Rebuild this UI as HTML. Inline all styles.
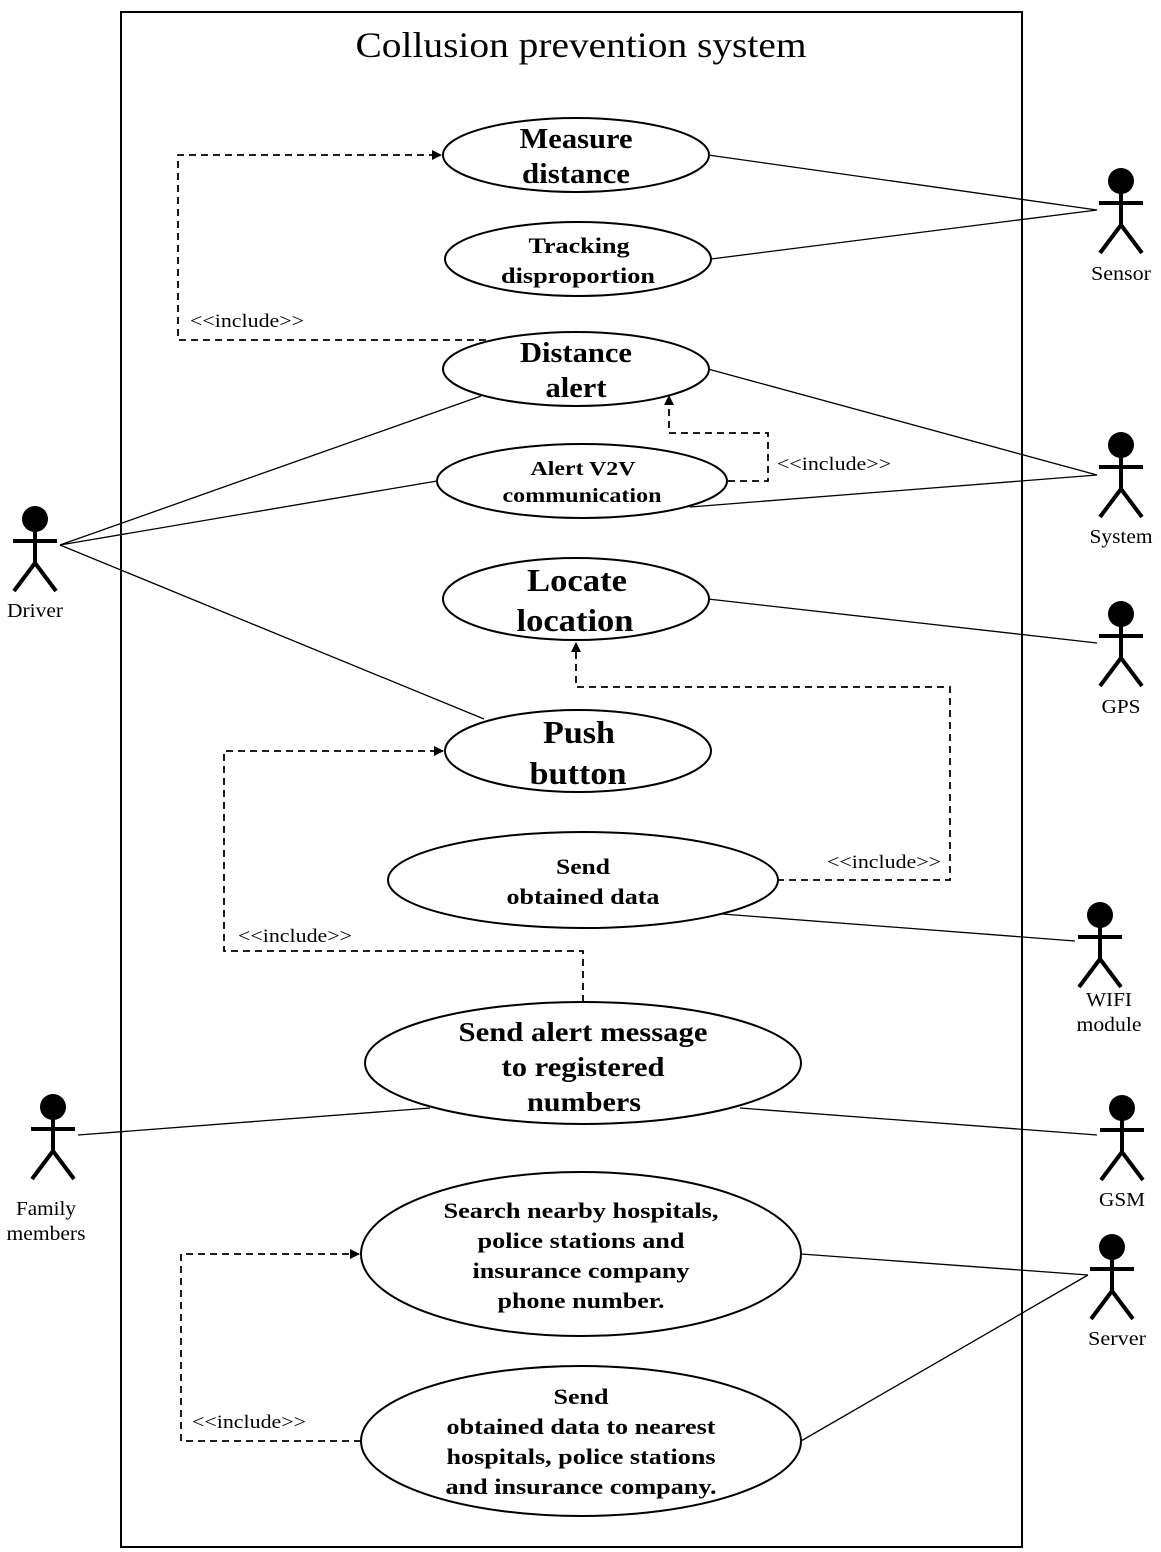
<!DOCTYPE html>
<html><head><meta charset="utf-8"><style>
html,body{margin:0;padding:0;background:#fff;}
svg{display:block;}
text{font-family:"Liberation Serif",serif;fill:#000;}
.b{font-weight:bold;}
</style></head><body>
<svg width="1161" height="1552" viewBox="0 0 1161 1552" xmlns="http://www.w3.org/2000/svg">
<defs><marker id="a" markerWidth="10" markerHeight="10" refX="9" refY="5" orient="auto" markerUnits="userSpaceOnUse"><path d="M0,0 L10,5 L0,10 z" fill="#000"/></marker></defs>
<rect x="121" y="12" width="901" height="1535" fill="none" stroke="#000" stroke-width="2"/>
<text x="581" y="57" font-size="36" text-anchor="middle" textLength="451" lengthAdjust="spacingAndGlyphs">Collusion prevention system</text>

<g stroke="#000" stroke-width="1.3" fill="none">
<line x1="60" y1="545" x2="481" y2="396"/>
<line x1="60" y1="545" x2="437" y2="481"/>
<line x1="60" y1="545" x2="484" y2="719"/>
<line x1="1097" y1="210" x2="708" y2="155"/>
<line x1="1097" y1="210" x2="711" y2="259"/>
<line x1="1097" y1="475" x2="708" y2="369"/>
<line x1="1097" y1="475" x2="690" y2="507"/>
<line x1="1097" y1="643" x2="708" y2="599"/>
<line x1="1075" y1="941" x2="722" y2="914"/>
<line x1="1097" y1="1135" x2="740" y2="1108"/>
<line x1="78" y1="1135" x2="430" y2="1108"/>
<line x1="1088" y1="1275" x2="801" y2="1254"/>
<line x1="1088" y1="1275" x2="801" y2="1441"/>
</g>

<g stroke="#000" stroke-width="1.8" fill="none" stroke-dasharray="7,5">
<polyline points="486,340 178,340 178,155 441,155" marker-end="url(#a)"/>
<polyline points="728,481 768,481 768,433 669,433 669,396" marker-end="url(#a)"/>
<polyline points="777,880 950,880 950,687 576,687 576,643" marker-end="url(#a)"/>
<polyline points="583,1002 583,951 224,951 224,751 443,751" marker-end="url(#a)"/>
<polyline points="361,1441 181,1441 181,1254 359,1254" marker-end="url(#a)"/>
</g>
<g font-size="19">
<text x="190" y="327" textLength="114" lengthAdjust="spacingAndGlyphs">&lt;&lt;include&gt;&gt;</text>
<text x="777" y="470" textLength="114" lengthAdjust="spacingAndGlyphs">&lt;&lt;include&gt;&gt;</text>
<text x="827" y="868" textLength="114" lengthAdjust="spacingAndGlyphs">&lt;&lt;include&gt;&gt;</text>
<text x="238" y="942" textLength="114" lengthAdjust="spacingAndGlyphs">&lt;&lt;include&gt;&gt;</text>
<text x="192" y="1428" textLength="114" lengthAdjust="spacingAndGlyphs">&lt;&lt;include&gt;&gt;</text>
</g>

<g stroke="#000" stroke-width="2" fill="#fff">
<ellipse cx="576" cy="155" rx="133" ry="37"/>
<ellipse cx="578" cy="259" rx="133" ry="37"/>
<ellipse cx="576" cy="369" rx="133" ry="37"/>
<ellipse cx="582" cy="481" rx="145" ry="37"/>
<ellipse cx="576" cy="599" rx="133" ry="41"/>
<ellipse cx="578" cy="751" rx="133" ry="41"/>
<ellipse cx="583" cy="880" rx="195" ry="48"/>
<ellipse cx="583" cy="1063" rx="218" ry="61"/>
<ellipse cx="581" cy="1254" rx="220" ry="82"/>
<ellipse cx="581" cy="1441" rx="220" ry="75"/>
</g>
<g class="b" text-anchor="middle" lengthAdjust="spacingAndGlyphs">
<text x="576" y="148" font-size="28" class="b" textLength="113" lengthAdjust="spacingAndGlyphs">Measure</text>
<text x="576" y="183" font-size="28" class="b" textLength="108" lengthAdjust="spacingAndGlyphs">distance</text>
<text x="579" y="253" font-size="22" class="b" textLength="101" lengthAdjust="spacingAndGlyphs">Tracking</text>
<text x="578" y="283" font-size="22" class="b" textLength="154" lengthAdjust="spacingAndGlyphs">disproportion</text>
<text x="576" y="362" font-size="28" class="b" textLength="112" lengthAdjust="spacingAndGlyphs">Distance</text>
<text x="576" y="397" font-size="28" class="b" textLength="61" lengthAdjust="spacingAndGlyphs">alert</text>
<text x="583" y="475" font-size="20" class="b" textLength="105" lengthAdjust="spacingAndGlyphs">Alert V2V</text>
<text x="582" y="502" font-size="20" class="b" textLength="159" lengthAdjust="spacingAndGlyphs">communication</text>
<text x="577" y="591" font-size="32" class="b" textLength="100" lengthAdjust="spacingAndGlyphs">Locate</text>
<text x="575" y="631" font-size="32" class="b" textLength="117" lengthAdjust="spacingAndGlyphs">location</text>
<text x="579" y="743" font-size="32" class="b" textLength="72" lengthAdjust="spacingAndGlyphs">Push</text>
<text x="578" y="784" font-size="32" class="b" textLength="97" lengthAdjust="spacingAndGlyphs">button</text>
<text x="583" y="874" font-size="22" class="b" textLength="54" lengthAdjust="spacingAndGlyphs">Send</text>
<text x="583" y="904" font-size="22" class="b" textLength="153" lengthAdjust="spacingAndGlyphs">obtained data</text>
<text x="583" y="1041" font-size="27" class="b" textLength="249" lengthAdjust="spacingAndGlyphs">Send alert message</text>
<text x="583" y="1076" font-size="27" class="b" textLength="163" lengthAdjust="spacingAndGlyphs">to registered</text>
<text x="584" y="1111" font-size="27" class="b" textLength="114" lengthAdjust="spacingAndGlyphs">numbers</text>
<text x="581" y="1218" font-size="22" class="b" textLength="275" lengthAdjust="spacingAndGlyphs">Search nearby hospitals,</text>
<text x="581" y="1248" font-size="22" class="b" textLength="207" lengthAdjust="spacingAndGlyphs">police stations and</text>
<text x="581" y="1278" font-size="22" class="b" textLength="217" lengthAdjust="spacingAndGlyphs">insurance company</text>
<text x="581" y="1308" font-size="22" class="b" textLength="167" lengthAdjust="spacingAndGlyphs">phone number.</text>
<text x="581" y="1404" font-size="22" class="b" textLength="55" lengthAdjust="spacingAndGlyphs">Send</text>
<text x="581" y="1434" font-size="22" class="b" textLength="269" lengthAdjust="spacingAndGlyphs">obtained data to nearest</text>
<text x="581" y="1464" font-size="22" class="b" textLength="269" lengthAdjust="spacingAndGlyphs">hospitals, police stations</text>
<text x="581" y="1494" font-size="22" class="b" textLength="271" lengthAdjust="spacingAndGlyphs">and insurance company.</text>
</g>

<defs>
<g id="act" stroke="#000" stroke-width="4" fill="none">
<circle cx="0" cy="0" r="13" fill="#000" stroke="none"/>
<line x1="0" y1="12" x2="0" y2="45"/>
<line x1="-22" y1="22" x2="22" y2="22"/>
<line x1="0" y1="44" x2="-21" y2="72"/>
<line x1="0" y1="44" x2="21" y2="72"/>
</g>
</defs>
<use href="#act" x="1121" y="181"/>
<use href="#act" x="1121" y="445"/>
<use href="#act" x="1121" y="614"/>
<use href="#act" x="1100" y="915"/>
<use href="#act" x="1122" y="1108"/>
<use href="#act" x="1112" y="1247"/>
<use href="#act" x="35" y="519"/>
<use href="#act" x="53" y="1107"/>
<g font-size="20" text-anchor="middle">
<text x="1121" y="280" textLength="60" lengthAdjust="spacingAndGlyphs">Sensor</text>
<text x="1121" y="543" textLength="63" lengthAdjust="spacingAndGlyphs">System</text>
<text x="1121" y="713" textLength="39" lengthAdjust="spacingAndGlyphs">GPS</text>
<text x="1109" y="1006" textLength="46" lengthAdjust="spacingAndGlyphs">WIFI</text>
<text x="1109" y="1031" textLength="65" lengthAdjust="spacingAndGlyphs">module</text>
<text x="1122" y="1206" textLength="46" lengthAdjust="spacingAndGlyphs">GSM</text>
<text x="1117" y="1345" textLength="58" lengthAdjust="spacingAndGlyphs">Server</text>
<text x="35" y="617" textLength="56" lengthAdjust="spacingAndGlyphs">Driver</text>
<text x="46" y="1215" textLength="60" lengthAdjust="spacingAndGlyphs">Family</text>
<text x="46" y="1240" textLength="79" lengthAdjust="spacingAndGlyphs">members</text>
</g>
</svg>
</body></html>
